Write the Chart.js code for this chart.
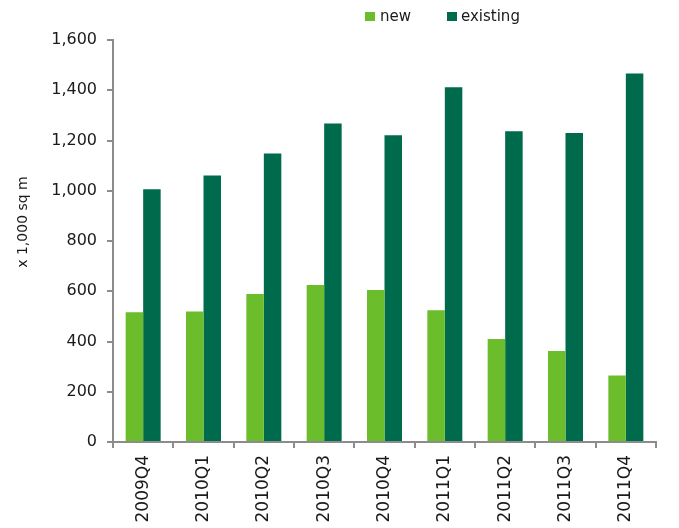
<!DOCTYPE html>
<html>
<head>
<meta charset="utf-8">
<script src="https://cdn.jsdelivr.net/npm/chart.js@4/dist/chart.umd.min.js"></script>
<style>
  html, body { margin: 0; padding: 0; background: #fff; }
  #wrap { position: relative; width: 679px; height: 528px; overflow: hidden; }
  #c { position: absolute; left: 0; top: 0; }
  .legbox { position: absolute; width: 10px; height: 9px; top: 12px; }
  .legtxt { position: absolute; top: 7px; font: 15px "DejaVu Sans", sans-serif; line-height: 18px; color: #1a1a1a; white-space: nowrap; }
  #ytitle { position: absolute; left: 13px; top: 213px; width: 18px; height: 18px; }
  #ytitle span { position: absolute; left: 50%; top: 50%; transform: translate(-50%, -50%) rotate(-90deg);
            font: 14px "DejaVu Sans", sans-serif; line-height: 18px; color: #1a1a1a; white-space: nowrap; }
</style>
</head>
<body>
<div id="wrap">
  <canvas id="c" width="679" height="528"></canvas>
  <div class="legbox" style="left:365px;background:#6bbd2b"></div>
  <div class="legtxt" style="left:380px">new</div>
  <div class="legbox" style="left:447px;background:#006b4c"></div>
  <div class="legtxt" style="left:461px">existing</div>
  <div id="ytitle"><span>x 1,000 sq m</span></div>
</div>
<script>
const categories = ["2009Q4", "2010Q1", "2010Q2", "2010Q3", "2010Q4", "2011Q1", "2011Q2", "2011Q3", "2011Q4"];
const newValues = [516, 519, 589, 625, 605, 524, 410, 362, 265];
const existingValues = [1006, 1061, 1148, 1268, 1221, 1412, 1237, 1230, 1467];
const yMin = 0;
const yMax = 1600;
const yStep = 200;

const axisColor = "#8c8c8c";
const textColor = "#1a1a1a";

new Chart(document.getElementById("c"), {
  type: "bar",
  data: {
    labels: categories,
    datasets: [
      { label: "new", data: newValues, backgroundColor: "#6bbd2b", borderWidth: 0,
        categoryPercentage: 0.58, barPercentage: 1.0 },
      { label: "existing", data: existingValues, backgroundColor: "#006b4c", borderWidth: 0,
        categoryPercentage: 0.58, barPercentage: 1.0 }
    ]
  },
  options: {
    responsive: false,
    animation: false,
    devicePixelRatio: 1,
    layout: { padding: { top: 40, right: 23, left: 0, bottom: 0 } },
    plugins: { legend: { display: false }, tooltip: { enabled: false } },
    scales: {
      x: {
        grid: { display: true, drawOnChartArea: false, drawTicks: true, tickLength: 6, color: axisColor, lineWidth: 2, offset: true },
        border: { display: true, color: axisColor, width: 2 },
        ticks: { color: textColor, font: { family: "DejaVu Sans", size: 17 }, minRotation: 90, maxRotation: 90, padding: 7, autoSkip: false },
        afterFit: (s) => { s.height = 86; }
      },
      y: {
        min: yMin, max: yMax,
        grid: { display: true, drawOnChartArea: false, drawTicks: true, tickLength: 6, color: axisColor, lineWidth: 2 },
        border: { display: true, color: axisColor, width: 2 },
        ticks: { stepSize: yStep, color: textColor, font: { family: "DejaVu Sans", size: 16 }, padding: 10,
                 callback: (v) => v.toLocaleString("en-US") },
        afterFit: (s) => { s.width = 113; }
      }
    }
  }
});
</script>
</body>
</html>
